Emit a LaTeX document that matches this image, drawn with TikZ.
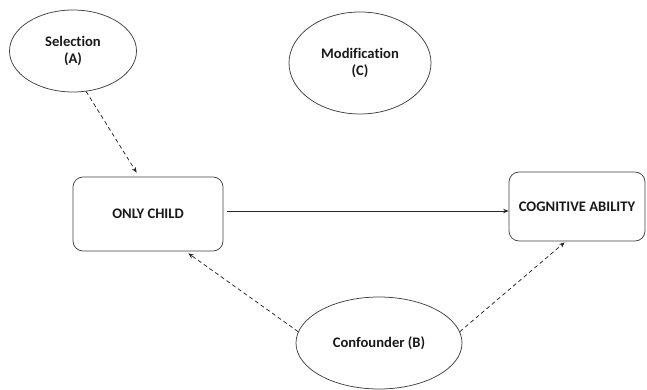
\documentclass[tikz,border=0pt]{standalone}
\usepackage{fontspec}
\setmainfont{Carlito}[Ligatures=NoCommon]
\usetikzlibrary{shapes.geometric,arrows.meta,calc}
\begin{document}
\begin{tikzpicture}[x=1pt,y=1pt,
  every node/.style={font=\fontsize{14.6}{17.5}\selectfont\bfseries, text=black!90, align=center},
  oval/.style={ellipse, draw=black!75, line width=0.75pt, inner sep=0pt},
  box/.style={rectangle, rounded corners=10pt, draw=black!75, line width=0.75pt, inner sep=0pt},
  link/.style={line width=0.75pt, draw=black!85, -{Stealth[length=5.5pt,width=4.5pt]}},
  dep/.style={link, dash pattern=on 4pt off 3pt}]
\useasboundingbox (0,0) rectangle (647,389);
\node[oval, minimum width=127, minimum height=82] (sel) at (73,338) {Selection\\(A)};
\node[oval, minimum width=142, minimum height=102] (mod) at (360,326) {Modification\\(C)};
\node[oval, minimum width=166, minimum height=92] (conf) at (379,46) {Confounder (B)};
\node[box, minimum width=150, minimum height=74] (oc) at (148,175) {ONLY CHILD};
\node[box, minimum width=136, minimum height=69] (cog) at (577,182.5) {COGNITIVE ABILITY};
\coordinate (s) at ($(oc.east)+(4,3)$);
\draw[link] (s) -- (s -| cog.west);
\draw[dep] (sel.-72) -- ($(oc.north west)+(64,4)$);
\draw[dep] (conf.172) -- ($(oc.south east)+(-35,-2)$);
\draw[dep] (conf.8) -- ($(cog.south west)+(56,-1)$);
\end{tikzpicture}
\end{document}
